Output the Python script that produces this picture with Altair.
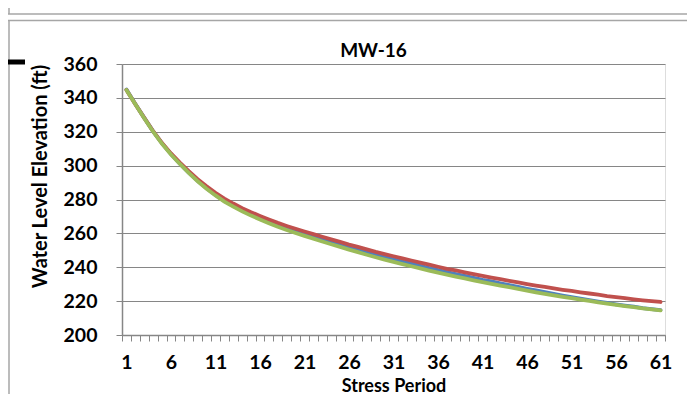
import altair as alt
import pandas as pd

period = list(range(1, 62))

series_blue = [
    344.9, 336.4, 328.2, 320.2, 313.1, 306.8, 301.2, 295.9, 291.0, 286.6,
    282.7, 279.2, 276.3, 273.6, 271.3, 269.1, 267.0, 264.9, 263.1, 261.3,
    259.7, 258.1, 256.5, 254.9, 253.3, 251.8, 250.3, 248.8, 247.4, 246.0,
    244.7, 243.4, 242.1, 240.8, 239.5, 238.3, 237.1, 236.0, 234.9, 233.8,
    232.6, 231.6, 230.5, 229.5, 228.4, 227.3, 226.3, 225.3, 224.3, 223.3,
    222.4, 221.5, 220.6, 219.7, 218.9, 218.1, 217.4, 216.7, 215.9, 215.3,
    214.7,
]
series_red = [
    344.7, 336.3, 328.2, 320.3, 313.3, 307.2, 301.8, 296.7, 292.0, 287.8,
    283.9, 280.5, 277.6, 274.9, 272.5, 270.3, 268.2, 266.2, 264.4, 262.7,
    261.1, 259.6, 258.0, 256.5, 255.0, 253.4, 252.0, 250.6, 249.1, 247.8,
    246.5, 245.3, 244.0, 242.7, 241.5, 240.3, 239.1, 238.1, 237.0, 235.9,
    234.9, 233.9, 233.0, 232.0, 231.1, 230.1, 229.2, 228.4, 227.5, 226.7,
    226.0, 225.2, 224.5, 223.8, 223.0, 222.4, 221.8, 221.1, 220.5, 220.0,
    219.5,
]
series_green = [
    344.7, 336.2, 328.0, 320.0, 312.9, 306.6, 301.0, 295.7, 290.8, 286.4,
    282.4, 278.8, 275.8, 273.0, 270.5, 268.2, 266.0, 263.9, 262.0, 260.2,
    258.5, 256.9, 255.2, 253.6, 252.0, 250.4, 248.9, 247.4, 245.9, 244.5,
    243.2, 241.9, 240.6, 239.3, 238.0, 236.8, 235.6, 234.5, 233.4, 232.3,
    231.2, 230.2, 229.2, 228.2, 227.2, 226.2, 225.2, 224.3, 223.4, 222.5,
    221.7, 220.9, 220.1, 219.3, 218.5, 217.8, 217.1, 216.4, 215.7, 215.1,
    214.5,
]

y_ticks = [200, 220, 240, 260, 280, 300, 320, 340, 360]
x_tick_labels = [1, 6, 11, 16, 21, 26, 31, 36, 41, 46, 51, 56, 61]
x_boundaries = [p - 0.5 for p in period] + [61.5]

COLORS = {"blue": "#4F81BD", "red": "#C0504D", "green": "#9BBB59"}
GRAY = "#868686"
FONT = "Lato"

df = pd.DataFrame({
    "period": period,
    "blue": series_blue,
    "red": series_red,
    "green": series_green,
})

x_enc = alt.X(
    "period:Q",
    scale=alt.Scale(domain=[0.5, 61.5], nice=False, zero=False),
    axis=alt.Axis(
        values=x_boundaries,
        labelExpr="(datum.value + 0.5) % 5 == 1 ? format(datum.value + 0.5, 'd') : ''",
        labelOffset=4.45,
        labelOverlap=False,
        labelFlush=False,
        grid=False,
        tickSize=6,
        tickColor=GRAY,
        tickWidth=1,
        domainColor=GRAY,
        domainWidth=1.5,
        labelFont=FONT,
        labelFontSize=19.5,
        labelFontWeight="bold",
        labelColor="black",
        labelPadding=12,
        title="Stress Period",
        titleFont=FONT,
        titleFontSize=18,
        titleFontWeight="bold",
        titleColor="black",
        titleY=56,
        titleBaseline="alphabetic",
    ),
)


def y_enc(col):
    return alt.Y(
        f"{col}:Q",
        scale=alt.Scale(domain=[200, 360], nice=False, zero=False),
        axis=alt.Axis(
            values=y_ticks,
            grid=True,
            gridColor=GRAY,
            gridWidth=1.2,
            tickSize=6,
            tickColor=GRAY,
            domainColor=GRAY,
            domainWidth=1.5,
            labelFont=FONT,
            labelFontSize=19.5,
            labelFontWeight="bold",
            labelColor="black",
            labelPadding=19,
            title="Water Level Elevation (ft)",
            titleFont=FONT,
            titleFontSize=20,
            titleFontWeight="bold",
            titleColor="black",
            titleX=-82,
            titleY=112,
            titleAngle=-90,
            titleAlign="center",
            titleBaseline="middle",
        ),
    )


def line(col):
    return alt.Chart(df).mark_line(
        color=COLORS[col], strokeWidth=3.8, strokeCap="round"
    ).encode(x=x_enc, y=y_enc(col))


deco = pd.DataFrame({"d": [0]})
frame_color = "#a6a6a6"
top_box = alt.Chart(deco).mark_rule(color=frame_color, strokeWidth=1.5).encode(
    x=alt.value(-114), x2=alt.value(565), y=alt.value(-50)
)
chart_top = alt.Chart(deco).mark_rule(color=frame_color, strokeWidth=1.5).encode(
    x=alt.value(-114), x2=alt.value(565), y=alt.value(-43.5)
)
left_edge = alt.Chart(deco).mark_rule(color=frame_color, strokeWidth=1.5).encode(
    x=alt.value(-113), y=alt.value(-43.5), y2=alt.value(330)
)
left_edge_top = alt.Chart(deco).mark_rule(color=frame_color, strokeWidth=1.5).encode(
    x=alt.value(-113), y=alt.value(-57), y2=alt.value(-50)
)
black_bar = alt.Chart(deco).mark_rule(color="black", strokeWidth=5).encode(
    x=alt.value(-114), x2=alt.value(-97), y=alt.value(-2)
)

chart = alt.layer(
    top_box, chart_top, left_edge, left_edge_top, black_bar,
    line("blue"), line("red"), line("green"),
).properties(
    width=543,
    height=271,
    padding={"left": 114, "top": 56, "right": 22, "bottom": 59},
    autosize="none",
    title=alt.TitleParams(
        "MW-16",
        font=FONT,
        fontSize=19,
        fontWeight="bold",
        color="black",
        anchor="middle",
        frame="group",
        dx=-20,
        dy=70,
        offset=0,
        baseline="alphabetic",
    ),
).configure_view(stroke=None).configure(background="white")

chart.save("out.html", embed_options={"renderer": "svg", "actions": False})
